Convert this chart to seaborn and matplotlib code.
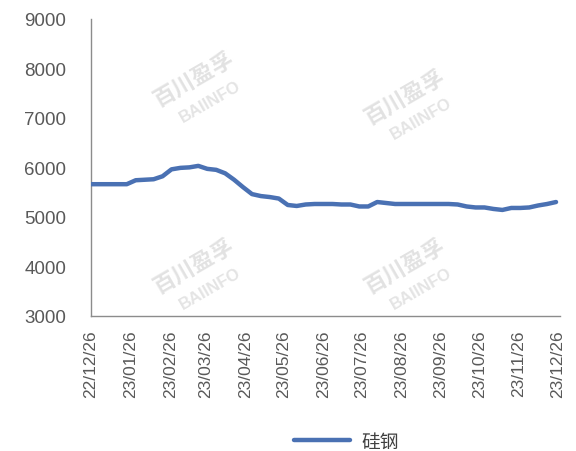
import matplotlib
matplotlib.use("Agg")
import matplotlib.pyplot as plt
import matplotlib.dates as mdates
import seaborn as sns
import pandas as pd

# Weekly silicon-steel price (yuan/ton)
dates = pd.date_range("2022-12-26", periods=53, freq="7D")
prices = [
    5660, 5660, 5660, 5660, 5660, 5740, 5750, 5760, 5820, 5960,
    5990, 6000, 6030, 5970, 5950, 5880, 5750, 5600, 5460, 5420,
    5400, 5370, 5240, 5220, 5250, 5260, 5260, 5260, 5250, 5250,
    5210, 5210, 5300, 5280, 5260, 5260, 5260, 5260, 5260, 5260,
    5260, 5250, 5210, 5190, 5190, 5160, 5140, 5180, 5180, 5190,
    5230, 5260, 5300,
]
series_name = "硅钢"
tick_dates = pd.date_range("2022-12-26", "2023-12-26", freq="MS") + pd.Timedelta(days=25)
tick_dates = tick_dates.insert(0, pd.Timestamp("2022-12-26"))
y_ticks = [3000, 4000, 5000, 6000, 7000, 8000, 9000]

df = pd.DataFrame({"date": dates, "price": prices, "series": series_name})

sns.set_theme(style="white")
plt.rcParams["font.family"] = ["Liberation Sans", "Noto Sans CJK SC"]

fig = plt.figure(figsize=(5.76, 4.52), dpi=100)
ax = fig.add_axes([0.158, 0.299, 0.814, 0.657])

# Watermarks
for (wx, wy) in [(0.22, 0.80), (0.67, 0.74), (0.22, 0.17), (0.67, 0.17)]:
    ax.text(wx, wy, "百川盈孚", transform=ax.transAxes, rotation=30,
            fontsize=16, color="#e2e2e2", ha="center", va="center",
            fontweight="bold", family=["Noto Sans CJK SC"], zorder=0)
    ax.text(wx + 0.035, wy - 0.075, "BAIINFO", transform=ax.transAxes,
            rotation=30, fontsize=12, color="#e4e4e4", ha="center",
            va="center", fontweight="bold", zorder=0)

sns.lineplot(data=df, x="date", y="price", hue="series",
             palette=["#4a71b3"], linewidth=3.2, ax=ax, zorder=3)

ax.set_ylim(3000, 9000)
ax.set_yticks(y_ticks)
ax.set_xlim(pd.Timestamp("2022-12-26"), pd.Timestamp("2023-12-28"))
ax.set_xticks(tick_dates)
ax.xaxis.set_major_formatter(mdates.DateFormatter("%y/%m/%d"))
ax.tick_params(axis="x", rotation=90, labelsize=12.5, colors="#595959", length=0, pad=10)
ax.tick_params(axis="y", labelsize=13.5, colors="#595959", length=0, pad=18)
for lab in ax.get_yticklabels():
    lab.set_horizontalalignment("right")
ax.set_xlabel("")
ax.set_ylabel("")

for side in ["top", "right"]:
    ax.spines[side].set_visible(False)
for side in ["left", "bottom"]:
    ax.spines[side].set_color("#8c8c8c")
    ax.spines[side].set_linewidth(1.0)

ax.legend(loc="upper center", bbox_to_anchor=(0.545, -0.34), frameon=False,
          fontsize=13.5, handlelength=3.0, handletextpad=0.6,
          labelcolor="#404040")

fig.savefig("out.png", dpi=100, facecolor="white")
